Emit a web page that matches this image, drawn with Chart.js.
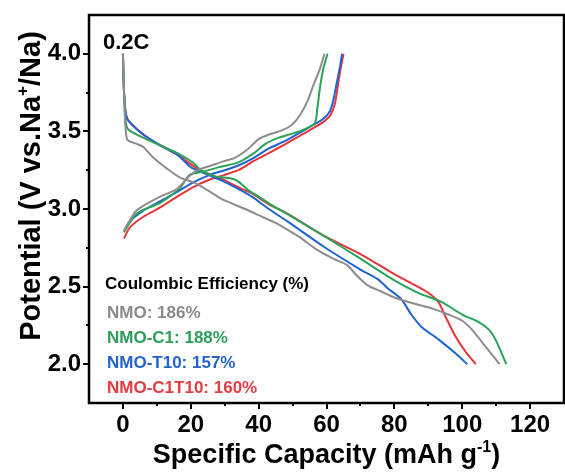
<!DOCTYPE html>
<html>
<head>
<meta charset="utf-8">
<script src="https://cdn.jsdelivr.net/npm/chart.js@4"></script>
<style>
  html, body { margin: 0; padding: 0; background: #fff; }
  #wrap { width: 565px; height: 473px; }
</style>
</head>
<body>
<div id="wrap"><canvas id="chart" width="565" height="473"></canvas></div>
<script>
// ---- data (x = mAh/g, y = V) ----
const nmoCharge = [[0.3,2.86],[4,2.99],[11,3.08],[16,3.13],[19,3.20],[22,3.25],[26,3.28],[30,3.31],[33,3.33],[36.5,3.38],[40,3.45],[43,3.48],[46,3.50],[49,3.53],[51,3.57],[52.6,3.62],[54.5,3.70],[56,3.79],[58,3.90],[59.4,4.0]];
const nmoDischarge = [[0,4.0],[0.4,3.72],[1.2,3.45],[4,3.42],[6,3.40],[9,3.33],[13,3.26],[17,3.20],[21,3.17],[25,3.12],[29.5,3.06],[36,3.0],[41,2.95],[45,2.91],[49,2.86],[52,2.82],[57,2.74],[62,2.68],[66,2.64],[69,2.57],[72,2.51],[76,2.47],[80,2.43],[86,2.39],[91,2.36],[96,2.32],[100,2.28],[103,2.22],[107,2.11],[111,2.0]];

const c1Charge = [[0.3,2.85],[4,2.97],[11,3.04],[15,3.10],[17,3.14],[19.7,3.22],[23.5,3.24],[28.5,3.27],[34,3.30],[38.6,3.36],[42,3.42],[46,3.46],[52,3.50],[56.5,3.55],[57.3,3.65],[58,3.77],[59,3.90],[60.3,4.0]];
const c1Discharge = [[0,4.0],[0.4,3.72],[1.3,3.52],[6,3.46],[11,3.41],[16,3.36],[20.6,3.30],[23,3.25],[27,3.21],[31,3.20],[33,3.19],[35,3.16],[37,3.12],[40,3.08],[45,3.01],[50.6,2.94],[59,2.83],[70,2.68],[80,2.54],[87,2.46],[94,2.40],[100,2.32],[105,2.27],[108,2.22],[110,2.15],[113,2.0]];

const t10Charge = [[0.3,2.86],[2,2.92],[6,2.99],[11,3.05],[16,3.11],[20.6,3.17],[25.6,3.22],[30,3.25],[34,3.28],[38.6,3.33],[43,3.39],[48,3.44],[52,3.49],[56,3.54],[59,3.58],[61,3.63],[62,3.70],[63,3.81],[64,3.92],[64.6,4.0]];
const t10Discharge = [[0,4.0],[0.4,3.72],[1.3,3.58],[6,3.48],[11,3.41],[16,3.35],[20,3.27],[24,3.23],[29.5,3.18],[34,3.13],[38,3.08],[43,3.0],[48.5,2.92],[59,2.76],[70,2.61],[75,2.55],[78,2.49],[82,2.42],[85,2.32],[88,2.24],[93,2.16],[98,2.07],[101.5,2.0]];

const c1t10Charge = [[0.3,2.81],[2,2.88],[6,2.95],[11,3.01],[16,3.08],[20.6,3.14],[25.6,3.19],[30,3.22],[34,3.25],[38.6,3.31],[43,3.36],[48,3.42],[52,3.47],[56,3.52],[59,3.56],[61,3.60],[62.5,3.68],[63.5,3.82],[64.3,3.92],[65,4.0]];
const c1t10Discharge = [[0,4.0],[0.4,3.72],[1.3,3.58],[6,3.48],[11,3.41],[16,3.35],[22,3.26],[26,3.22],[29.5,3.19],[34,3.14],[38,3.10],[43,3.03],[48.5,2.97],[59,2.83],[70,2.71],[80,2.58],[86,2.51],[90,2.46],[93,2.40],[95,2.31],[98,2.18],[101,2.08],[104,2.0]];

const seriesNames = ['NMO', 'NMO-C1', 'NMO-T10', 'NMO-C1T10'];
const efficiencies = [186, 188, 157, 160];
const seriesColors = ['#8d8d8d', '#29a359', '#1f62d4', '#ea3439'];
const textColors = ['#8a8a8a', '#2c9e5a', '#2463cc', '#e63b40'];
const curves = [
  [nmoCharge, nmoDischarge],
  [c1Charge, c1Discharge],
  [t10Charge, t10Discharge],
  [c1t10Charge, c1t10Discharge]
];

const xTickLabels = [0, 20, 40, 60, 80, 100, 120];
const yTickLabels = [2.0, 2.5, 3.0, 3.5, 4.0];

const FONT = "'Liberation Sans', Arial, sans-serif";

// build datasets: one for charge, one for discharge per sample
const datasets = [];
curves.forEach((pair, i) => {
  pair.forEach(pts => {
    datasets.push({
      label: seriesNames[i],
      data: pts.map(p => ({ x: p[0], y: p[1] })),
      showLine: true,
      borderColor: seriesColors[i],
      borderWidth: 2,
      pointRadius: 0,
      tension: 0.25,
      fill: false
    });
  });
});

const isMajor = (v, list) => list.some(t => Math.abs(t - v) < 1e-6);

// draws frame, tick marks, the text block and the axis titles
const decorations = {
  id: 'decorations',
  afterDraw(chart) {
    const ctx = chart.ctx;
    const a = chart.chartArea;
    const xs = chart.scales.x, ys = chart.scales.y;
    ctx.save();

    // tick marks
    ctx.strokeStyle = '#000';
    ctx.lineWidth = 2;
    xs.ticks.forEach(t => {
      if (t.value <= xs.min || t.value >= xs.max) return;
      const px = Math.round(xs.getPixelForValue(t.value));
      const len = isMajor(t.value, xTickLabels) ? 6 : 3;
      ctx.beginPath();
      ctx.moveTo(px, a.bottom);
      ctx.lineTo(px, a.bottom + len);
      ctx.stroke();
    });
    ys.ticks.forEach(t => {
      if (t.value <= ys.min || t.value >= ys.max) return;
      const py = Math.round(ys.getPixelForValue(t.value));
      const len = isMajor(t.value, yTickLabels) ? 6 : 3;
      ctx.beginPath();
      ctx.moveTo(a.left, py);
      ctx.lineTo(a.left - len, py);
      ctx.stroke();
    });

    // frame
    ctx.lineWidth = 2.5;
    ctx.strokeRect(a.left, a.top, a.right - a.left, a.bottom - a.top);

    // rate label
    ctx.fillStyle = '#000';
    ctx.textAlign = 'left';
    ctx.textBaseline = 'alphabetic';
    ctx.font = 'bold 22px ' + FONT;
    ctx.fillText('0.2C', 103, 49);

    // efficiency block
    ctx.font = 'bold 17px ' + FONT;
    ctx.fillText('Coulombic Efficiency (%)', 105, 289);
    seriesNames.forEach((n, i) => {
      ctx.fillStyle = textColors[i];
      ctx.fillText(n + ': ' + efficiencies[i] + '%', 107, 318 + i * 25);
    });

    // axis titles with superscripts
    ctx.fillStyle = '#000';
    const drawSup = (parts, x, y, size) => {
      const supSize = Math.round(size * 0.6);
      let total = 0;
      parts.forEach(p => {
        ctx.font = 'bold ' + (p[1] ? supSize : size) + 'px ' + FONT;
        total += ctx.measureText(p[0]).width;
      });
      let cx = x - total / 2;
      ctx.textAlign = 'left';
      parts.forEach(p => {
        ctx.font = 'bold ' + (p[1] ? supSize : size) + 'px ' + FONT;
        ctx.fillText(p[0], cx, p[1] ? y - size * 0.42 : y);
        cx += ctx.measureText(p[0]).width;
      });
    };
    drawSup([['Specific Capacity (mAh g', false], ['-1', true], [')', false]], (a.left + a.right) / 2, 463, 27);

    ctx.save();
    ctx.translate(40, 186);
    ctx.rotate(-Math.PI / 2);
    drawSup([['Potential (V vs.Na', false], ['+', true], ['/Na)', false]], 0, 0, 29);
    ctx.restore();

    ctx.restore();
  }
};

new Chart(document.getElementById('chart'), {
  type: 'scatter',
  data: { datasets },
  options: {
    responsive: false,
    animation: false,
    layout: { padding: { left: 0, top: 15, right: 1, bottom: 0 } },
    plugins: { legend: { display: false }, tooltip: { enabled: false } },
    scales: {
      x: {
        type: 'linear',
        min: -10,
        max: 130,
        grid: { display: false, drawTicks: false, tickLength: 0 },
        border: { display: false },
        ticks: {
          stepSize: 10,
          autoSkip: false,
          maxRotation: 0,
          padding: 8,
          color: '#000',
          font: { family: FONT, weight: 'bold', size: 24 },
          callback: v => isMajor(v, xTickLabels) ? String(v) : ''
        },
        afterFit: s => { s.height = 70; s.paddingLeft = 0; s.paddingRight = 0; }
      },
      y: {
        type: 'linear',
        min: 1.75,
        max: 4.25,
        grid: { display: false, drawTicks: false, tickLength: 0 },
        border: { display: false },
        ticks: {
          stepSize: 0.25,
          autoSkip: false,
          padding: 8,
          color: '#000',
          font: { family: FONT, weight: 'bold', size: 24 },
          callback: v => isMajor(v, yTickLabels) ? v.toFixed(1) : ''
        },
        afterFit: s => { s.width = 89; s.paddingTop = 0; s.paddingBottom = 0; }
      }
    }
  },
  plugins: [decorations]
});
</script>
</body>
</html>
